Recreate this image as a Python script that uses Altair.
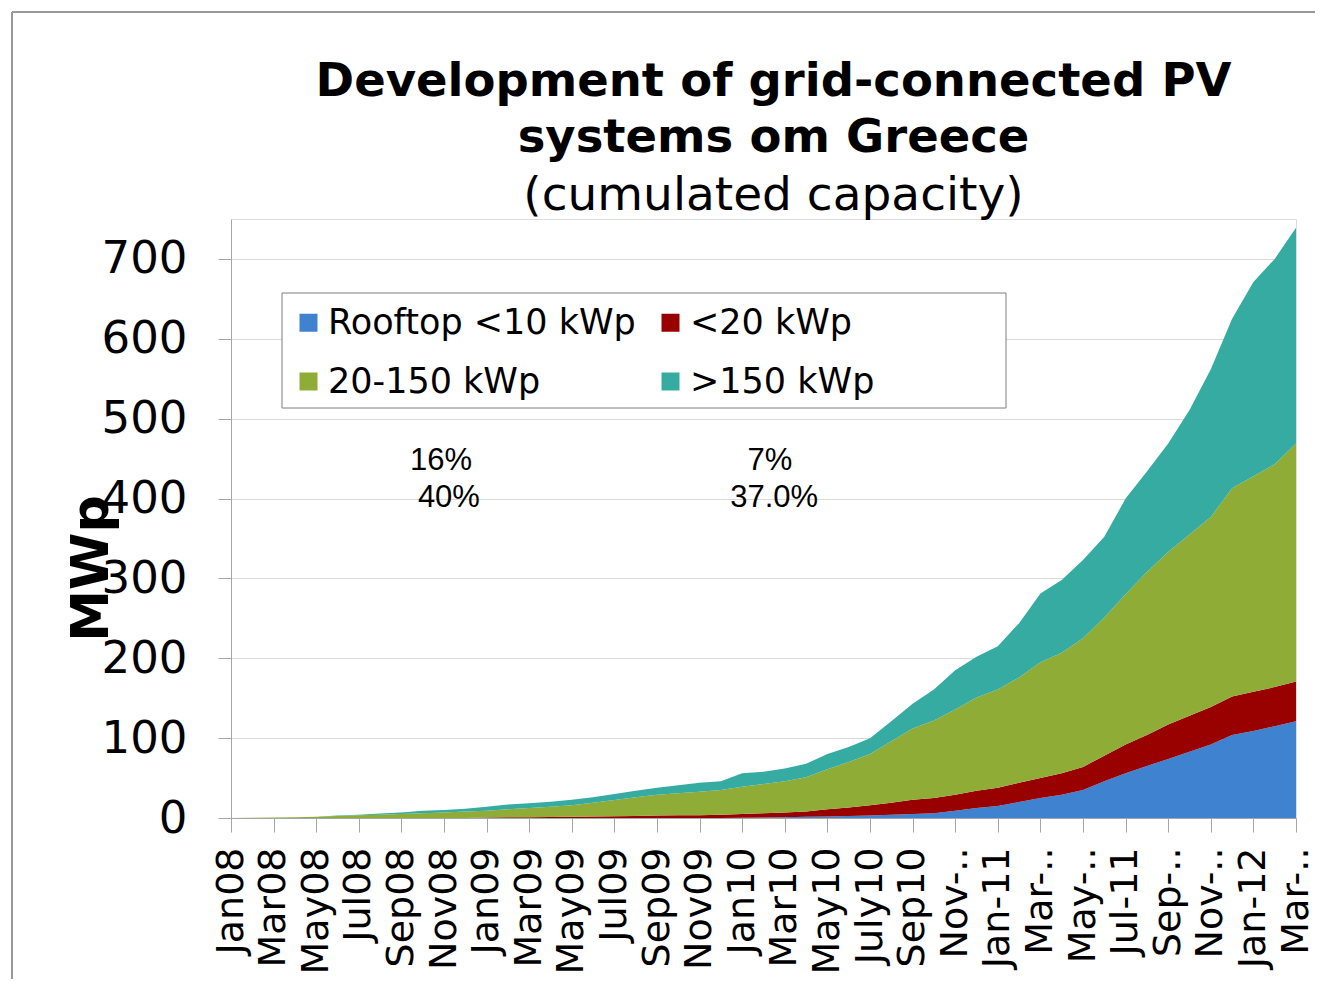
import json
import altair as alt
import pandas as pd

# ---------------- data ----------------
months = [
    "Jan08", "Feb08", "Mar08", "Apr08", "May08", "Jun08", "Jul08", "Aug08", "Sep08", "Oct08", "Nov08", "Dec08",
    "Jan09", "Feb09", "Mar09", "Apr09", "May09", "Jun09", "Jul09", "Aug09", "Sep09", "Oct09", "Nov09", "Dec09",
    "Jan10", "Feb10", "Mar10", "Apr10", "May10", "Jun10", "July10", "Aug10", "Sep10", "Oct10", "Nov-10", "Dec-10",
    "Jan-11", "Feb-11", "Mar-11", "Apr-11", "May-11", "Jun-11", "Jul-11", "Aug-11", "Sep-11", "Oct-11", "Nov-11", "Dec-11",
    "Jan-12", "Feb-12", "Mar-12",
]

tick_labels = [
    "Jan08", "Mar08", "May08", "Jul08", "Sep08", "Nov08", "Jan09", "Mar09", "May09", "Jul09",
    "Sep09", "Nov09", "Jan10", "Mar10", "May10", "July10", "Sep10", "Nov-..", "Jan-11", "Mar-..",
    "May-..", "Jul-11", "Sep-..", "Nov-..", "Jan-12", "Mar-..",
]

series = ["Rooftop <10 kWp", "<20 kWp", "20-150 kWp", ">150 kWp"]
colors = ["#3F83D0", "#990000", "#8FAC36", "#36ABA1"]

rooftop = [0, 0, 0, 0, 0, 0, 0, 0, 0, 0, 0, 0,
           0, 0, 0, 0, 0, 0, 0, 0, 0, 0, 0, 0,
           0.3, 0.5, 1, 1.5, 2, 2.5, 3, 4, 5, 6, 9, 12.5,
           15, 20, 25, 29, 35, 46, 56, 65, 74, 83, 92, 104,
           109, 115, 121]
lt20 = [0, 0, 0, 0, 0, 0, 0, 0, 0, 0, 0, 0,
        0.5, 0.8, 1, 1.3, 1.6, 2, 2.3, 2.6, 3, 3.3, 3.6, 4,
        4.7, 5.5, 6, 6.5, 9, 10.5, 13, 15, 18, 19, 20, 21.5,
        23, 24, 25, 27, 29, 32, 36, 39, 43, 45, 47, 48,
        49, 49, 50]
mid = [0, 0.2, 0.5, 1, 1.5, 2.5, 3.3, 4.2, 5, 5.8, 7, 8,
       8.7, 10.2, 11.5, 12.7, 14.4, 17, 20.2, 23.4, 26, 27.7, 29.4, 31,
       34, 36.5, 39, 43, 50, 57, 64, 77, 89, 97, 107, 117,
       123, 132, 145, 151, 161, 173, 188, 204, 216, 227, 238, 261,
       270, 279, 298]
gt150 = [0, 0, 0, 0, 0.2, 0.5, 0.7, 1.3, 2, 3.2, 3, 3.7,
         4.8, 6, 6, 6.5, 7, 7, 7.5, 8, 9, 10, 11, 11,
         17, 15.5, 16, 17, 19, 19, 20, 25, 31, 39, 49, 51,
         54, 68, 86, 91, 98, 101, 120, 126, 136, 156, 185, 212,
         243, 257, 270]

ann_text = ["16%", "40%", "7%", "37.0%"]
ann_x = [9.86, 10.23, 25.3, 25.5]
ann_y = [447, 401, 447, 401]

# ---------------- tables ----------------
rows = []
for k, (name, vals) in enumerate(zip(series, [rooftop, lt20, mid, gt150])):
    for i, v in enumerate(vals):
        rows.append({"idx": i, "month": months[i], "series": name, "order": k, "value": v})
df = pd.DataFrame(rows)

ann = pd.DataFrame({"text": ann_text, "x": ann_x, "y": ann_y})
one = pd.DataFrame({"a": [0]})

full_labels = [tick_labels[i // 2] if i % 2 == 0 else "" for i in range(len(months))]
label_expr = json.dumps(full_labels) + "[datum.value]"

FONT = "DejaVu Sans"
GRAY = "#A6A6A6"

x_scale = alt.Scale(domain=[0, len(months) - 1], nice=False, zero=False)
y_scale = alt.Scale(domain=[0, 750], nice=False)

areas = alt.Chart(df).mark_area(interpolate="linear", opacity=1).encode(
    x=alt.X("idx:Q", scale=x_scale,
            axis=alt.Axis(values=list(range(len(months))), labelExpr=label_expr,
                          labelAngle=-90, labelFont=FONT, labelFontSize=38, labelColor="black",
                          labelOverlap=False, labelBound=False, labelFlush=False, labelLimit=400,
                          labelPadding=15, tickSize=14, tickColor=GRAY, domainColor=GRAY,
                          grid=False, title=None)),
    y=alt.Y("value:Q", stack="zero", scale=y_scale,
            axis=alt.Axis(values=[0, 100, 200, 300, 400, 500, 600, 700],
                          labelFont=FONT, labelFontSize=45, labelColor="black",
                          labelPadding=31, tickSize=13, tickColor=GRAY, domainColor=GRAY,
                          grid=True, gridColor="#D9D9D9", labelBound=False,
                          title="MWp", titleFont=FONT, titleFontSize=52, titleFontWeight="bold",
                          titleColor="black", titleX=-124, titleY=349, titleBaseline="alphabetic",
                          titleAngle=270)),
    color=alt.Color("series:N", scale=alt.Scale(domain=series, range=colors),
                    legend=alt.Legend(orient="none", legendX=60, legendY=86, columns=2,
                                      direction="horizontal",
                                      symbolType="square", symbolSize=324, symbolStrokeWidth=0,
                                      symbolOpacity=1, labelFont=FONT, labelFontSize=35,
                                      labelColor="black", labelLimit=600, labelOffset=2,
                                      columnPadding=17, rowPadding=23, padding=0, title=None)),
    order=alt.Order("order:Q", sort="ascending"),
)

legend_box = alt.Chart(one).mark_rect(fill="white", stroke="#7F7F7F", strokeWidth=1).encode(
    x=alt.value(51), x2=alt.value(775), y=alt.value(74), y2=alt.value(189)
)

texts = alt.Chart(ann).mark_text(font="Liberation Sans", fontSize=31, color="black",
                                 align="center", baseline="middle").encode(
    x=alt.X("x:Q", scale=x_scale), y=alt.Y("y:Q", scale=y_scale), text="text:N"
)

border_top = alt.Chart(one).mark_rule(color="#999999", strokeWidth=2).encode(
    x=alt.value(-219), x2=alt.value(1084), y=alt.value(-207)
)
border_left = alt.Chart(one).mark_rule(color="#999999", strokeWidth=2).encode(
    x=alt.value(-219), y=alt.value(-207), y2=alt.value(760)
)

chart = alt.layer(areas, legend_box, texts, border_top, border_left).properties(
    width=1065, height=599,
    autosize=alt.AutoSizeParams(type="none"),
    padding={"left": 223, "top": 211, "right": 19, "bottom": 161},
    title=alt.TitleParams(
        text=["Development of grid-connected PV", "systems om Greece"],
        subtitle="(cumulated capacity)",
        font=FONT, fontSize=46.5, fontWeight="bold", color="black", lineHeight=56,
        subtitleFont=FONT, subtitleFontSize=47, subtitleFontWeight="normal",
        subtitleColor="black", subtitleLineHeight=56, subtitlePadding=12,
        anchor="middle", frame="group", dx=10, offset=-208,
    ),
).configure_view(strokeWidth=0, stroke=None).configure(background="white")

chart.save("out.html", embed_options={"renderer": "svg", "actions": False})
